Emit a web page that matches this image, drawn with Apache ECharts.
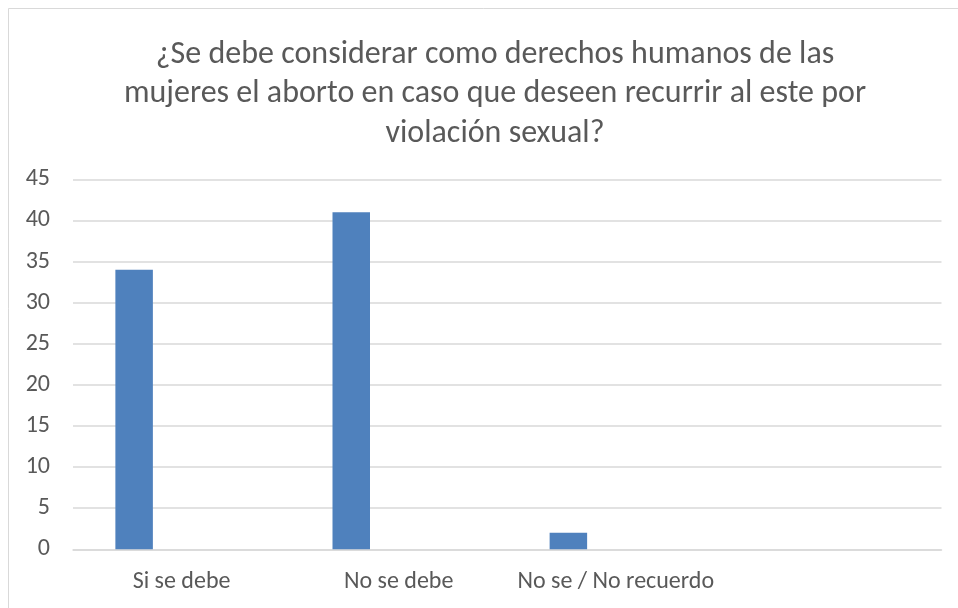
<!DOCTYPE html>
<html>
<head>
<meta charset="utf-8">
<script src="https://cdn.jsdelivr.net/npm/echarts@6/dist/echarts.min.js"></script>
<style>
    html,body{margin:0;padding:0;background:#fff;}
    #chart{width:958px;height:608px;}
</style>
</head>
<body>
<div id="chart"></div>
<script>
// datos del grafico
var titleLines=["¿Se debe considerar como derechos humanos de las","mujeres el aborto en caso que deseen recurrir al este por","violación sexual?"];
var categories=["Si se debe","No se debe","No se / No recuerdo",""];
var values=[34,41,2,null];
var emptySeries=[null,null,null,null];
var yTicks={min:0,max:45,interval:5};

var chart=echarts.init(document.getElementById('chart'));
var fontName='Carlito, "Liberation Sans", sans-serif';

var option={
    animation:false,
    backgroundColor:'#ffffff',
    title:{
        text:titleLines.join('\n'),
        left:490,
        top:30,
        textAlign:'center',
        textStyle:{
            color:'#595959',
            fontFamily:fontName,
            fontSize:32,
            fontWeight:'normal',
            lineHeight:39.5
        }
    },
    graphic:[{
        type:'rect',
        silent:true,
        shape:{x:8.5,y:8.5,width:1000,height:1000},
        style:{fill:'none',stroke:'#D9D9D9',lineWidth:1}
    }],
    grid:{left:73,right:16.5,top:179.3,bottom:58.7,containLabel:false},
    xAxis:{
        type:'category',
        data:categories,
        axisLine:{show:true,lineStyle:{color:'#D9D9D9',width:1.5}},
        axisTick:{show:false},
        axisLabel:{color:'#595959',fontFamily:fontName,fontSize:24,margin:21,interval:0}
    },
    yAxis:{
        type:'value',
        min:yTicks.min,
        max:yTicks.max,
        interval:yTicks.interval,
        axisLine:{show:false},
        axisTick:{show:false},
        axisLabel:{color:'#595959',fontFamily:fontName,fontSize:24,margin:23},
        splitLine:{lineStyle:{color:'#D9D9D9',width:1.5}}
    },
    series:[{
        type:'bar',
        data:values,
        barWidth:37.5,
        barGap:'153%',
        itemStyle:{color:'#4F81BD'}
    },{
        type:'bar',
        data:emptySeries,
        barWidth:37.5,
        itemStyle:{color:'#C0504D'}
    }]
};
chart.setOption(option);
</script>
</body>
</html>
